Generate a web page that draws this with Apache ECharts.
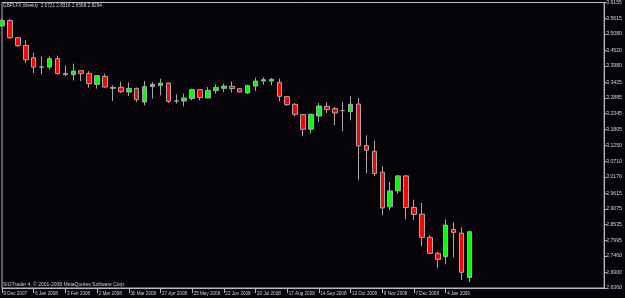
<!DOCTYPE html>
<html><head><meta charset="utf-8">
<script src="https://cdn.jsdelivr.net/npm/echarts@6/dist/echarts.min.js"></script>
<style>html,body{margin:0;padding:0;background:#050308;}#c{width:625px;height:298px;}</style>
</head><body><div id="c"></div>
<script>
const dates = ['9 Dec 2007','16 Dec 2007','23 Dec 2007','30 Dec 2007','6 Jan 2008','13 Jan 2008','20 Jan 2008','27 Jan 2008',
'3 Feb 2008','10 Feb 2008','17 Feb 2008','24 Feb 2008','2 Mar 2008','9 Mar 2008','16 Mar 2008','23 Mar 2008',
'30 Mar 2008','6 Apr 2008','13 Apr 2008','20 Apr 2008','27 Apr 2008','4 May 2008','11 May 2008','18 May 2008',
'25 May 2008','1 Jun 2008','8 Jun 2008','15 Jun 2008','22 Jun 2008','29 Jun 2008','6 Jul 2008','13 Jul 2008',
'20 Jul 2008','27 Jul 2008','3 Aug 2008','10 Aug 2008','17 Aug 2008','24 Aug 2008','31 Aug 2008','7 Sep 2008',
'14 Sep 2008','21 Sep 2008','28 Sep 2008','5 Oct 2008','12 Oct 2008','19 Oct 2008','26 Oct 2008','2 Nov 2008',
'9 Nov 2008','16 Nov 2008','23 Nov 2008','30 Nov 2008','7 Dec 2008','14 Dec 2008','21 Dec 2008','28 Dec 2008',
'4 Jan 2009','11 Jan 2009','18 Jan 2009','25 Jan 2009'];
const open = [3.5350,3.5539,3.4946,3.4682,3.4261,3.3940,3.3939,3.4227,3.3723,3.3679,3.3816,3.3723,3.3347,3.3621,3.3244,3.3244,
3.3083,3.3210,3.2741,3.3268,3.3302,3.3391,3.2775,3.2775,3.2857,3.3165,3.2878,3.3131,3.3210,3.3278,3.3199,3.3049,
3.3288,3.3460,3.3460,3.3415,3.2925,3.2662,3.2309,3.1806,3.2261,3.2593,3.2514,3.2446,3.2412,3.2672,3.1247,3.1052,
3.0333,2.9144,2.9692,3.0206,2.9124,2.8894,2.8097,2.7549,2.7432,2.8370,2.8244,2.6721];
const close = [3.5539,3.4946,3.4672,3.4193,3.3939,3.3940,3.4227,3.3713,3.3679,3.3802,3.3713,3.3371,3.3645,3.3254,3.3210,3.3097,
3.3210,3.2823,3.3268,3.3347,3.3391,3.2765,3.2775,3.2878,3.3165,3.2891,3.3141,3.3244,3.3288,3.3199,3.3083,3.3302,
3.3460,3.3508,3.3518,3.2936,3.2651,3.2319,3.1806,3.2319,3.2604,3.2480,3.2364,3.2446,3.2662,3.1234,3.1086,3.0288,
2.9110,2.9692,3.0206,2.9124,2.8884,2.8097,2.7549,2.7343,2.8518,2.8268,2.6898,2.8294];
const low = [3.5330,3.4912,3.4624,3.4076,3.3734,3.3689,3.3850,3.3689,3.3631,3.3484,3.3460,3.3234,3.3199,3.3234,3.2775,3.3049,
3.2946,3.2741,3.2628,3.2857,3.2970,3.2706,3.2686,3.2593,3.2799,3.2799,3.2878,3.3028,3.3083,3.3062,3.3073,3.3028,
3.3117,3.3336,3.3312,3.2765,3.2604,3.2251,3.1566,3.1658,3.2056,3.2364,3.1943,3.1737,3.2114,3.0059,3.0288,3.0196,
2.8860,2.9031,2.9597,2.8713,2.8689,2.7799,2.7525,2.7035,2.7172,2.7412,2.6634,2.6568];
const high = [3.5600,3.5597,3.4956,3.4854,3.4432,3.4306,3.4306,3.4330,3.3987,3.4056,3.3826,3.3802,3.3655,3.3713,3.3312,3.3439,
3.3415,3.3234,3.3460,3.3425,3.3542,3.3415,3.3004,3.3028,3.3199,3.3186,3.3254,3.3347,3.3371,3.3449,3.3210,3.3336,
3.3576,3.3586,3.3562,3.3542,3.2936,3.2706,3.2319,3.2336,3.2706,3.2730,3.2569,3.2741,3.2946,3.2878,3.1600,3.1419,
3.0538,3.0001,3.0230,3.0230,2.9391,2.9281,2.8175,2.7603,2.8713,2.8610,2.8439,2.8316];
const yTicks = [2.6360,2.6900,2.7460,2.7995,2.8535,2.9075,2.9615,3.0170,3.0710,3.1250,3.1805,3.2345,3.2885,3.3425,3.3980,3.4520,3.5080,3.5615,3.6155];
const titleText = 'GBPLFX,Weekly  2.6721 2.8316 2.6568 2.8294';
const footText = 'SIGTrader 4, \u00a9 2001-2008 MetaQuotes Software Corp.';

const candles = dates.map((d, i) => [open[i], close[i], low[i], high[i]]);
const fg = '#d0d0d0';
const font = 'Liberation Sans';
const chart = echarts.init(document.getElementById('c'), null, {renderer: 'canvas'});
chart.setOption({
  backgroundColor: '#050308',
  animation: false,
  title: [
    {text: titleText, left: 3, top: 3, padding: 0, textStyle: {color: fg, fontSize: 4.7, fontWeight: 'normal', fontFamily: font}},
    {text: footText, left: 3, top: 282, padding: 0, textStyle: {color: fg, fontSize: 5, fontWeight: 'normal', fontFamily: font}}
  ],
  grid: {left: 2, right: 19, top: 2, bottom: 10, show: true, borderColor: '#b8b8b8', borderWidth: 1, backgroundColor: 'transparent'},
  xAxis: {
    type: 'category', data: dates, boundaryGap: false, max: 76,
    axisLine: {show: true, lineStyle: {color: '#b8b8b8'}},
    axisTick: {show: true, length: 5, lineStyle: {color: '#b8b8b8'}, interval: (i, v) => i % 4 === 0 && i < dates.length},
    axisLabel: {show: true, color: fg, fontSize: 4.6, fontFamily: font, align: 'left', margin: 3.5, padding: [0,0,0,1.5],
      interval: (i, v) => i % 4 === 0 && i < dates.length},
    splitLine: {show: false}
  },
  yAxis: {
    type: 'value', position: 'right', min: 2.636, max: 3.6155, scale: true,
    axisLine: {show: true, lineStyle: {color: '#b8b8b8'}},
    axisTick: {show: true, length: 2.5, lineStyle: {color: '#b8b8b8'}, customValues: yTicks},
    axisLabel: {show: true, color: fg, fontSize: 5.2, fontFamily: font, margin: 2, customValues: yTicks,
      formatter: v => v.toFixed(4), showMinLabel: true, showMaxLabel: true},
    splitLine: {show: false}
  },
  series: [{
    type: 'candlestick', data: candles, barWidth: 5, clip: true,
    itemStyle: {color: '#00ff00', color0: '#ff0000', borderColor: '#a8a8a8', borderColor0: '#a8a8a8', borderWidth: 1},
    markLine: {
      symbol: 'none', silent: true, animation: false,
      lineStyle: {opacity: 0},
      data: [{yAxis: close[close.length - 1]}],
      label: {position: 'end', distance: 1, formatter: () => close[close.length - 1].toFixed(4),
        backgroundColor: '#ffffff', color: '#000000', fontSize: 5.2, fontFamily: font, padding: [0, 3, 0, 2]}
    }
  }]
});
</script></body></html>
